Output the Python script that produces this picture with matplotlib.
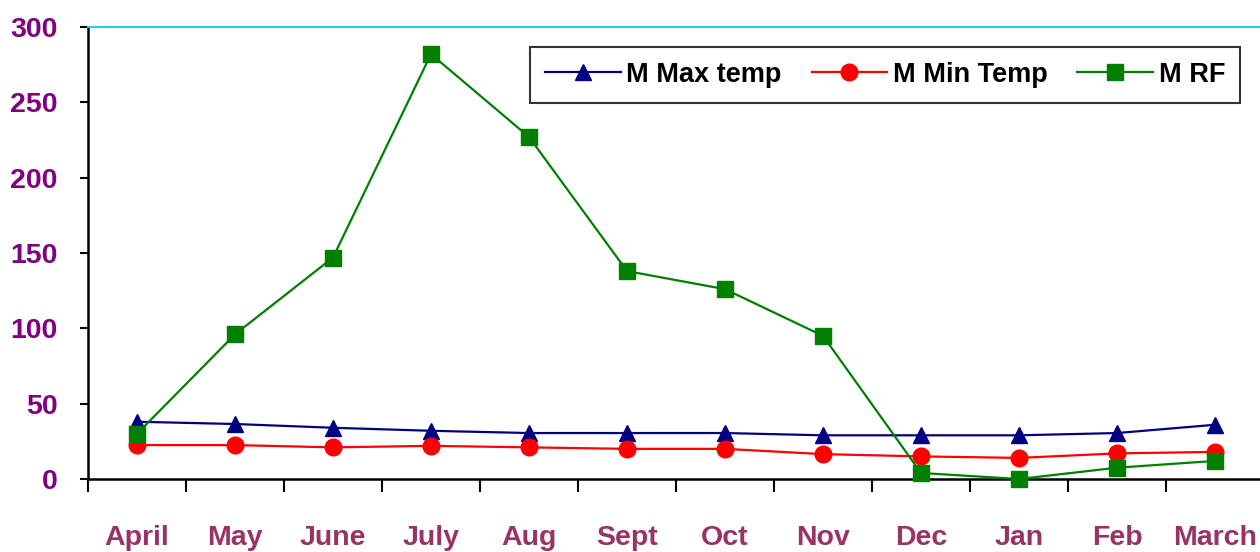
import matplotlib.pyplot as plt

months = ["April", "May", "June", "July", "Aug", "Sept", "Oct", "Nov", "Dec", "Jan", "Feb", "March"]
max_temp = [38, 36.5, 34, 32, 30.5, 30.5, 30.5, 29, 29, 29, 30.5, 36]
min_temp = [22.5, 22.5, 21, 22, 21, 20, 20, 16.5, 15, 14, 17, 18]
rainfall = [30, 96, 147, 282, 227, 138, 126, 95, 4, 0, 7.5, 12]
y_ticks = [0, 50, 100, 150, 200, 250, 300]

plt.rcParams['font.family'] = ['Liberation Sans', 'DejaVu Sans']

fig = plt.figure(figsize=(12.6, 5.52), dpi=100)
ax = fig.add_axes([88 / 1260, 73 / 552, 1176 / 1260, 452 / 552])

x = list(range(len(months)))
ax.plot(x, max_temp, color="#000080", lw=1.6, marker="^", ms=11, label="M Max temp", clip_on=False, zorder=3)
ax.plot(x, min_temp, color="#FF0000", lw=1.6, marker="o", ms=12, label="M Min Temp", clip_on=False, zorder=3)
ax.plot(x, rainfall, color="#008000", lw=1.6, marker="s", ms=12, label="M RF", clip_on=False, zorder=4)

ax.set_xlim(-0.5, len(months) - 0.5)
ax.set_ylim(0, 300)
ax.set_yticks(y_ticks)
ax.set_xticks(x)
ax.set_xticklabels(months)
ax.set_xticks([i - 0.5 for i in range(len(months) + 1)], minor=True)

ax.tick_params(axis="x", which="major", length=0, pad=33, labelsize=20.5, labelcolor="#993366")
ax.tick_params(axis="x", which="minor", length=9, width=1.5, direction="out")
ax.tick_params(axis="y", length=6, width=1.5, direction="out", pad=16, labelsize=20.5, labelcolor="#800080")
for lab in ax.get_xticklabels() + ax.get_yticklabels():
    lab.set_fontweight("bold")

ax.spines["right"].set_visible(False)
ax.spines["top"].set_color("#22CCEE")
ax.spines["top"].set_linewidth(1.5)
ax.spines["left"].set_linewidth(1.8)
ax.spines["bottom"].set_linewidth(1.8)

leg = ax.legend(loc="upper right", bbox_to_anchor=(1240 / 1260, 1 - 47 / 552), bbox_transform=fig.transFigure,
                ncol=3, frameon=True, fancybox=False, handlelength=2.8, handletextpad=0.2,
                columnspacing=1.1, borderpad=0.55, borderaxespad=0, prop={"weight": "bold", "size": 19.5})
leg.get_frame().set_edgecolor("black")
leg.get_frame().set_linewidth(1.5)

fig.savefig("out.png", dpi=100)
